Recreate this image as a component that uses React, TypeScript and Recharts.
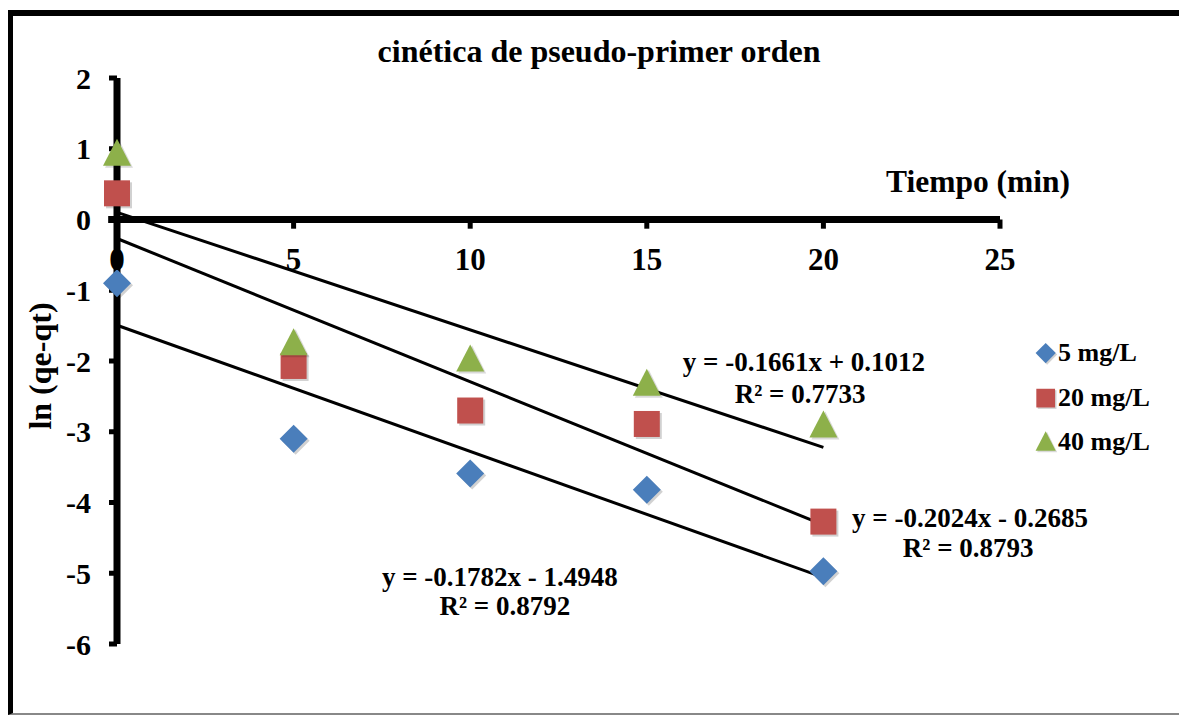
import { ScatterChart, Scatter, XAxis, YAxis, ReferenceLine, ReferenceDot } from "recharts";

const times = [0, 5, 10, 15, 20];
const mg5 = [-0.9, -3.1, -3.59, -3.82, -4.97];
const mg20 = [0.37, -2.07, -2.7, -2.89, -4.27];
const mg40 = [0.93, -1.75, -1.98, -2.32, -2.91];

const seriesNames = ["5 mg/L", "20 mg/L", "40 mg/L"];
const seriesColors = ["#4A7EBB", "#C0504D", "#8DB04A"];

// trendline coefficients shown on the chart (slope, intercept, R²)
const slopes = [-0.1782, -0.2024, -0.1661];
const intercepts = [-1.4948, -0.2685, 0.1012];
const r2 = ["0.8792", "0.8793", "0.7733"];
const equations = ["y = -0.1782x - 1.4948", "y = -0.2024x - 0.2685", "y = -0.1661x + 0.1012"];

const xTicks = [0, 5, 10, 15, 20, 25];
const yTicks = [-6, -5, -4, -3, -2, -1, 0, 1, 2];

const FONT = "'Liberation Serif', 'Times New Roman', serif";

const toPoints = (ys: number[]) => times.map((t, i) => ({ x: t, y: ys[i] }));

type ShapeProps = { cx?: number; cy?: number };

const Diamond = ({ cx = 0, cy = 0 }: ShapeProps) => (
  <g>
    <path d={`M${cx + 2},${cy - 12} L${cx + 16},${cy + 2} L${cx + 2},${cy + 16} L${cx - 12},${cy + 2} Z`} fill="rgba(0,0,0,0.18)" />
    <path d={`M${cx},${cy - 14} L${cx + 14},${cy} L${cx},${cy + 14} L${cx - 14},${cy} Z`} fill={seriesColors[0]} />
  </g>
);

const Square = ({ cx = 0, cy = 0 }: ShapeProps) => (
  <g>
    <rect x={cx - 11} y={cy - 11} width={26} height={26} fill="rgba(0,0,0,0.18)" />
    <rect x={cx - 13} y={cy - 13} width={26} height={26} fill={seriesColors[1]} />
  </g>
);

const Triangle = ({ cx = 0, cy = 0 }: ShapeProps) => (
  <g>
    <path d={`M${cx + 2},${cy - 14} L${cx + 16},${cy + 14} L${cx - 12},${cy + 14} Z`} fill="rgba(0,0,0,0.15)" />
    <path d={`M${cx},${cy - 15} L${cx + 14},${cy + 12} L${cx - 14},${cy + 12} Z`} fill={seriesColors[2]} />
  </g>
);

const shapes = [Diamond, Square, Triangle];
const series = [mg5, mg20, mg40];

// where each equation label sits (data coords)
const eqPos = [
  { x: 10.84, y: -5.05, ry: -5.46, rx: 10.98 },
  { x: 24.15, y: -4.21, ry: -4.64, rx: 24.1 },
  { x: 19.45, y: -2.0, ry: -2.46, rx: 19.34 },
];

const textStyle = { fill: "#000", fontFamily: FONT, fontWeight: "bold" as const };

const LegendMarker = ({ i }: { i: number }) => {
  const S = shapes[i];
  return (
    <svg width={28} height={30} style={{ display: "block" }}>
      <g transform="scale(0.72) translate(5,7)">
        <S cx={14} cy={14} />
      </g>
    </svg>
  );
};

export default function App() {
  return (
    <div style={{ position: "fixed", left: 0, top: 0, width: 1179, height: 715, background: "#fff", overflow: "hidden" }}>
      <div
        style={{
          position: "absolute",
          left: 8,
          top: 10,
          width: 1180,
          height: 705,
          boxSizing: "border-box",
          borderLeft: "5px solid #000",
          borderTop: "6px solid #000",
          borderBottom: "2px solid #888",
        }}
      />
      <ScatterChart width={1179} height={715} margin={{ top: 78, right: 179, bottom: 71, left: 57 }} style={{ position: "absolute", left: 0, top: 0 }}>
        <XAxis type="number" dataKey="x" domain={[0, 25]} ticks={xTicks} hide />
        <YAxis
          type="number"
          dataKey="y"
          domain={[-6, 2]}
          ticks={yTicks}
          width={60}
          interval={0}
          axisLine={{ stroke: "#000", strokeWidth: 7 }}
          tickLine={{ stroke: "#000", strokeWidth: 5 }}
          tickSize={8}
          tickMargin={18}
          tick={{ ...textStyle, fontSize: 30 }}
        />
        <ReferenceLine
          segment={[{ x: -0.25, y: 0 }, { x: 25, y: 0 }]}
          stroke="#000"
          strokeWidth={7}
          ifOverflow="visible"
        />
        {xTicks.slice(1).map(t => (
          <ReferenceLine
            key={`xt${t}`}
            segment={[{ x: t, y: 0 }, { x: t, y: -0.13 }]}
            stroke="#000"
            strokeWidth={5}
            ifOverflow="visible"
          />
        ))}
        {xTicks.map(t => (
          <ReferenceDot
            key={`xl${t}`}
            x={t}
            y={-0.56}
            r={0}
            fill="none"
            stroke="none"
            ifOverflow="visible"
            label={{ value: String(t), position: "center", ...textStyle, fontSize: 31 }}
          />
        ))}
        {slopes.map((m, i) => (
          <ReferenceLine
            key={`tl${i}`}
            segment={[
              { x: times[0], y: intercepts[i] + m * times[0] },
              { x: times[times.length - 1], y: intercepts[i] + m * times[times.length - 1] },
            ]}
            stroke="#000"
            strokeWidth={3}
            ifOverflow="visible"
          />
        ))}
        {series.map((ys, i) => (
          <Scatter
            key={seriesNames[i]}
            name={seriesNames[i]}
            data={toPoints(ys)}
            shape={shapes[i]}
            isAnimationActive={false}
          />
        ))}
        {eqPos.map((p, i) => (
          <ReferenceDot
            key={`eq${i}`}
            x={p.x}
            y={p.y}
            r={0}
            fill="none"
            stroke="none"
            ifOverflow="visible"
            label={{ value: equations[i], position: "center", ...textStyle, fontSize: 27 }}
          />
        ))}
        {eqPos.map((p, i) => (
          <ReferenceDot
            key={`r2${i}`}
            x={p.rx}
            y={p.ry}
            r={0}
            fill="none"
            stroke="none"
            ifOverflow="visible"
            label={{ value: `R² = ${r2[i]}`, position: "center", ...textStyle, fontSize: 27 }}
          />
        ))}
      </ScatterChart>

      <div
        style={{
          position: "absolute",
          left: 0,
          width: 1198,
          top: 32,
          textAlign: "center",
          fontFamily: FONT,
          fontWeight: "bold",
          fontSize: 32,
          lineHeight: "38px",
        }}
      >
        cinética de pseudo-primer orden
      </div>
      <div
        style={{
          position: "absolute",
          left: 878,
          width: 200,
          top: 163,
          textAlign: "center",
          fontFamily: FONT,
          fontWeight: "bold",
          fontSize: 31.5,
          lineHeight: "38px",
        }}
      >
        Tiempo (min)
      </div>
      <div
        style={{
          position: "absolute",
          left: 40 - 100,
          top: 366 - 19,
          width: 200,
          textAlign: "center",
          transform: "rotate(-90deg)",
          fontFamily: FONT,
          fontWeight: "bold",
          fontSize: 32,
          lineHeight: "38px",
        }}
      >
        ln (qe-qt)
      </div>

      <div style={{ position: "absolute", left: 1032, top: 331, fontFamily: FONT, fontWeight: "bold", fontSize: 26 }}>
        {seriesNames.map((n, i) => (
          <div key={n} style={{ display: "flex", alignItems: "center", height: 44.5 }}>
            <LegendMarker i={i} />
            <span style={{ marginLeft: -2 }}>{n}</span>
          </div>
        ))}
      </div>
    </div>
  );
}
